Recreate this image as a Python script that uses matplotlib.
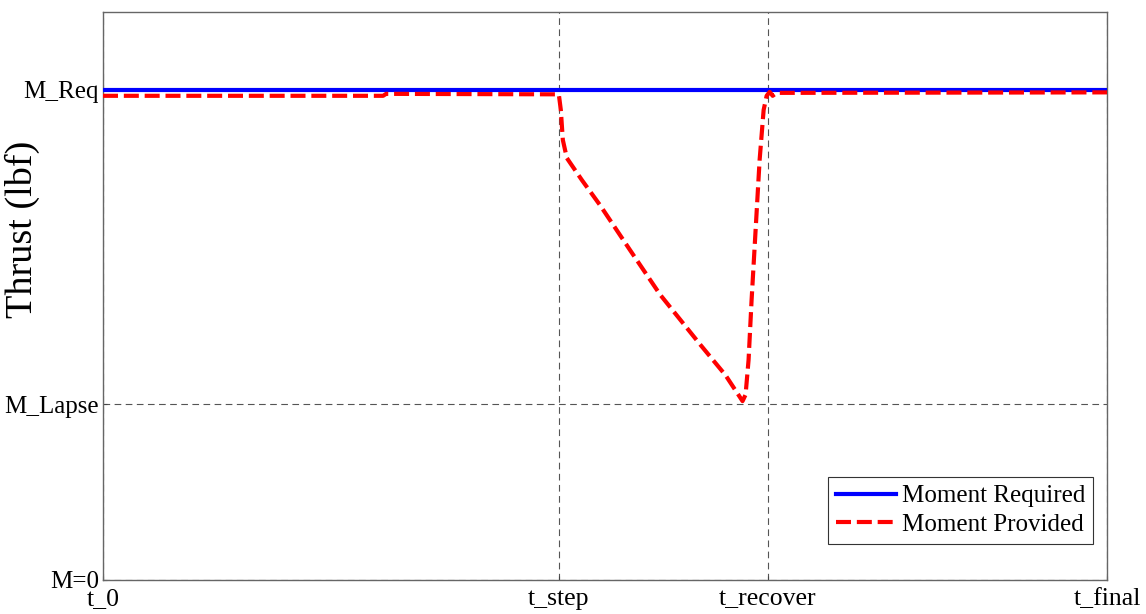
import matplotlib
matplotlib.use("Agg")
import matplotlib.pyplot as plt

plt.rcParams["font.family"] = ["Liberation Serif", "DejaVu Serif"]

# time axis (arbitrary units, t_0 = 0, t_final = 100)
T_TICKS = [0, 45.4, 66.2, 100]
T_LABELS = ["t_0", "t_step", "t_recover", "t_final"]
M_TICKS = [0, 35.9, 100]
M_LABELS = ["M=0", "M_Lapse", "M_Req"]

req_t = [0, 100]
req_m = [100, 100]

prov_t = [0, 27.9, 28.2, 45.4, 45.6, 45.8, 46.2, 47.7, 49.5, 52.5, 55.5, 59.5,
          62.0, 63.7, 64.0, 64.3, 64.6, 65.0, 65.4, 65.8, 66.1, 66.4, 66.7, 67.1, 100]
prov_m = [98.8, 98.8, 99.2, 99.1, 95.9, 89.8, 86.1, 81.6, 76.5, 67.3, 58.2, 48.0,
          41.8, 36.5, 37.8, 44.9, 57.1, 71.4, 85.7, 95.9, 98.8, 99.6, 98.8, 99.4, 99.5]


def main():
    fig = plt.figure(figsize=(11.46, 6.14), dpi=100)
    ax = fig.add_axes([103 / 1146, 1 - 580 / 614, 1004 / 1146, 568 / 614])

    ax.plot(req_t, req_m, color="#0000ff", linewidth=3, label="Moment Required", zorder=3)
    ax.plot(prov_t, prov_m, color="#ff0000", linewidth=3, linestyle=(0, (3.6, 1.4)),
            label="Moment Provided", zorder=4)

    ax.set_xlim(0, 100)
    ax.set_ylim(0, 115.9)
    ax.set_xticks(T_TICKS)
    ax.set_xticklabels(T_LABELS, fontsize=18.5)
    ax.set_yticks(M_TICKS)
    ax.set_yticklabels(M_LABELS, fontsize=18)
    ax.tick_params(axis="x", direction="in", length=3, color="#444444", pad=6)
    ax.tick_params(axis="y", direction="in", length=3, color="#444444", pad=3)
    ax.grid(True, color="#555555", linestyle=(0, (6, 4)), linewidth=0.8)

    for s in ax.spines.values():
        s.set_color("#666666")
        s.set_linewidth(1.0)

    ax.set_ylabel("Thrust (lbf)", fontsize=27.5)
    ax.yaxis.set_label_coords(-0.063, 0.618)

    leg = ax.legend(loc="lower right", fontsize=18, fancybox=False, edgecolor="#333333",
                    framealpha=1, handlelength=2.4, handletextpad=0.25, borderpad=0.3,
                    labelspacing=0.25, borderaxespad=0, bbox_to_anchor=(0.986, 0.064))
    leg.get_frame().set_linewidth(0.8)

    fig.savefig("out.png", dpi=100)
    plt.close(fig)


if __name__ == "__main__":
    main()
